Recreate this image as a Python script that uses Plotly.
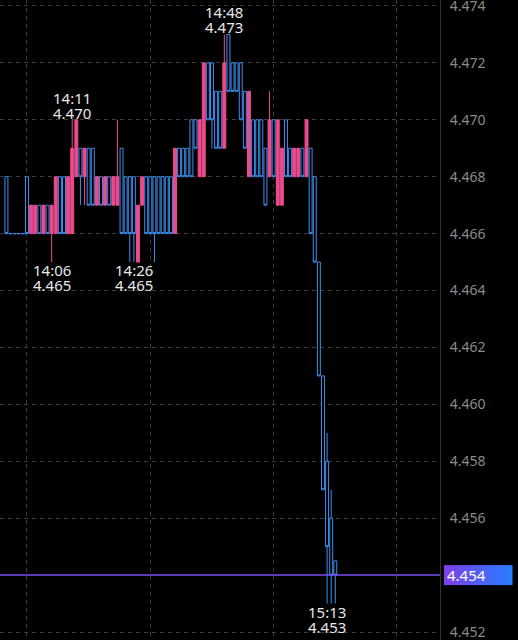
import pandas as pd
import plotly.graph_objects as go

# 1-minute bars, 13:55 -> 15:15
start_time = "2024-05-10 13:55"
open_ = [
    4.468, 4.466, 4.466, 4.466, 4.466, 4.468, 4.466, 4.466, 4.467, 4.466,
    4.467, 4.466, 4.466, 4.468, 4.468, 4.466, 4.466, 4.468, 4.469, 4.468,
    4.469, 4.469, 4.467, 4.468, 4.467, 4.468, 4.467, 4.467, 4.469, 4.468,
    4.468, 4.468, 4.465, 4.467, 4.468, 4.468, 4.468, 4.468, 4.468, 4.468,
    4.468, 4.466, 4.469, 4.469, 4.469, 4.470, 4.470, 4.468, 4.468, 4.472,
    4.472, 4.471, 4.471, 4.469, 4.473, 4.472, 4.472, 4.472, 4.471, 4.468,
    4.470, 4.470, 4.470, 4.469, 4.468, 4.470, 4.467, 4.467, 4.470, 4.469,
    4.468, 4.468, 4.469, 4.468, 4.469, 4.468, 4.465, 4.461, 4.458, 4.456,
    4.4545,
]
high = [
    4.468, 4.466, 4.466, 4.466, 4.466, 4.468, 4.467, 4.467, 4.467, 4.467,
    4.467, 4.467, 4.468, 4.468, 4.468, 4.468, 4.470, 4.470, 4.469, 4.469,
    4.469, 4.469, 4.468, 4.468, 4.468, 4.468, 4.468, 4.470, 4.469, 4.468,
    4.468, 4.468, 4.467, 4.468, 4.468, 4.468, 4.468, 4.468, 4.468, 4.468,
    4.468, 4.469, 4.469, 4.469, 4.469, 4.470, 4.470, 4.470, 4.472, 4.472,
    4.472, 4.471, 4.471, 4.473, 4.473, 4.472, 4.472, 4.472, 4.471, 4.471,
    4.470, 4.470, 4.470, 4.469, 4.471, 4.470, 4.470, 4.469, 4.470, 4.469,
    4.469, 4.469, 4.469, 4.470, 4.469, 4.468, 4.465, 4.461, 4.459, 4.457,
    4.4545,
]
low = [
    4.466, 4.466, 4.466, 4.466, 4.466, 4.466, 4.466, 4.466, 4.466, 4.466,
    4.466, 4.465, 4.466, 4.466, 4.466, 4.466, 4.466, 4.468, 4.467, 4.467,
    4.467, 4.467, 4.467, 4.467, 4.467, 4.467, 4.467, 4.467, 4.466, 4.466,
    4.465, 4.465, 4.465, 4.467, 4.466, 4.466, 4.465, 4.466, 4.466, 4.466,
    4.466, 4.466, 4.468, 4.468, 4.468, 4.468, 4.469, 4.468, 4.468, 4.470,
    4.469, 4.469, 4.469, 4.469, 4.471, 4.471, 4.471, 4.470, 4.469, 4.468,
    4.468, 4.468, 4.468, 4.467, 4.468, 4.468, 4.467, 4.467, 4.468, 4.468,
    4.468, 4.468, 4.468, 4.468, 4.466, 4.465, 4.461, 4.457, 4.453, 4.453,
    4.453,
]
close = [
    4.466, 4.466, 4.466, 4.466, 4.466, 4.466, 4.467, 4.467, 4.466, 4.467,
    4.466, 4.467, 4.468, 4.466, 4.466, 4.468, 4.469, 4.470, 4.468, 4.469,
    4.467, 4.467, 4.468, 4.467, 4.468, 4.467, 4.468, 4.468, 4.466, 4.466,
    4.466, 4.466, 4.467, 4.468, 4.466, 4.466, 4.466, 4.466, 4.466, 4.466,
    4.466, 4.469, 4.468, 4.468, 4.468, 4.468, 4.469, 4.470, 4.472, 4.470,
    4.470, 4.469, 4.469, 4.472, 4.471, 4.471, 4.471, 4.470, 4.469, 4.471,
    4.468, 4.468, 4.468, 4.467, 4.470, 4.468, 4.470, 4.469, 4.468, 4.468,
    4.469, 4.469, 4.468, 4.470, 4.466, 4.465, 4.461, 4.457, 4.455, 4.454,
    4.454,
]

# 4.454 is covered by the last-price tag
y_ticks = [4.452, 4.456, 4.458, 4.460, 4.462, 4.464, 4.466, 4.468, 4.470, 4.472, 4.474]

# high/low markers
mark_times = ["14:06", "14:11", "14:26", "14:48", "15:13"]
mark_prices = [4.465, 4.470, 4.465, 4.473, 4.453]
mark_kinds = ["low", "high", "low", "high", "low"]

last_price = 4.454

times = pd.date_range(start_time, periods=len(open_), freq="min")
day = times[0].strftime("%Y-%m-%d")

UP = "#ec4a8c"
DOWN = "#3d8ff0"
GRID = "#3d3d3d"

fig = go.Figure()

fig.add_trace(go.Candlestick(
    x=times, open=open_, high=high, low=low, close=close,
    increasing=dict(line=dict(color=UP, width=1), fillcolor=UP),
    decreasing=dict(line=dict(color=DOWN, width=1), fillcolor="#000000"),
    hoverinfo="skip",
))

# last price line
fig.add_shape(
    type="line", xref="paper", x0=0, x1=1, yref="y", y0=last_price, y1=last_price,
    line=dict(color="#7b4cf2", width=1.5),
)

# price tag with a purple -> blue gradient
n_slices = 34
c0, c1 = (124, 63, 232), (40, 124, 255)
for i in range(n_slices):
    t = i / (n_slices - 1)
    col = "rgb({},{},{})".format(*(round(a + (b - a) * t) for a, b in zip(c0, c1)))
    fig.add_shape(
        type="rect", xref="paper", xsizemode="pixel", xanchor=1,
        x0=4 + i * 2, x1=4 + (i + 1) * 2 + 0.5,
        yref="y", ysizemode="pixel", yanchor=last_price, y0=-10, y1=10,
        line=dict(width=0), fillcolor=col, layer="above",
    )
fig.add_annotation(
    xref="paper", x=1, xanchor="left", xshift=5,
    yref="y", y=last_price, yanchor="middle",
    text=f"{last_price:.3f}", showarrow=False,
    font=dict(family="Noto Sans", size=15, color="#ffffff"),
)

for t, p, kind in zip(mark_times, mark_prices, mark_kinds):
    xt = pd.Timestamp(f"{day} {t}")
    if kind == "high":
        shifts = [(t, 22), (f"{p:.3f}", 7)]
    else:
        shifts = [(t, -8), (f"{p:.3f}", -23)]
    for txt, ys in shifts:
        fig.add_annotation(
            x=xt, y=p, text=txt, showarrow=False,
            xanchor="center", yanchor="middle", yshift=ys,
            font=dict(family="Noto Sans", size=15, color="#e8e8e8"),
        )

fig.update_layout(
    width=518, height=640,
    margin=dict(l=0, r=78, t=0, b=0, pad=0, autoexpand=False),
    paper_bgcolor="#000000", plot_bgcolor="#000000",
    showlegend=False,
    boxgap=0.2, boxgroupgap=0.1,
    xaxis=dict(
        type="date",
        range=[f"{day} 13:53:26", f"{day} 15:40:28"],
        tick0=f"{day} 14:00", dtick=30 * 60 * 1000,
        showticklabels=False, ticks="",
        showgrid=True, gridcolor=GRID, griddash="4px,4px", gridwidth=1,
        zeroline=False, showline=False, automargin=False,
        rangeslider=dict(visible=False),
    ),
    yaxis=dict(
        side="right",
        range=[4.45172, 4.47421],
        tickvals=y_ticks, tickformat=".3f",
        ticks="", ticklabelstandoff=6, ticklabeloverflow="allow",
        tickfont=dict(family="Noto Sans", size=14, color="#8a8a8a"),
        showgrid=True, gridcolor=GRID, griddash="4px,4px", gridwidth=1,
        zeroline=False, automargin=False,
        showline=True, linecolor="#333333", linewidth=1,
    ),
)

fig.write_html(
    "out.html",
    config={"displayModeBar": False},
    post_script="document.body.style.margin='0';document.body.style.background='#000';",
)
